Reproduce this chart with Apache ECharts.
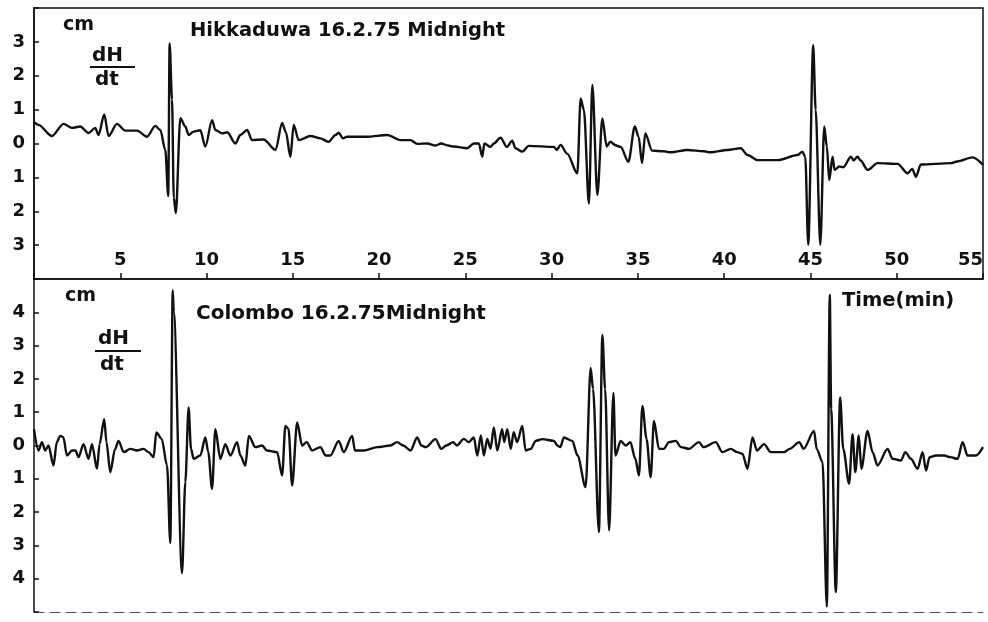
<!DOCTYPE html>
<html>
<head>
<meta charset="utf-8">
<script src="https://cdn.jsdelivr.net/npm/echarts@6/dist/echarts.min.js"></script>
<style>html,body{margin:0;padding:0;background:#fff;}#c{width:988px;height:622px;}</style>
</head>
<body>
<div id="c"></div>
<script>
// ---- Data (time in minutes, dH/dt in cm) ----
const hikTime = [0,0.26,1.04,1.71,2.2,2.68,3.16,3.55,3.74,4.07,4.32,4.81,5.29,5.97,6.55,7.03,7.32,7.61,7.78,7.86,8.0,8.1,8.22,8.48,8.77,8.96,9.25,9.64,9.93,10.32,10.51,10.9,11.2,11.67,11.96,12.35,12.64,13.31,14.0,14.38,14.6,14.86,15.05,15.34,16.02,16.6,17.08,17.47,17.66,17.9,18.15,19.3,20.47,21.24,21.82,22.21,22.8,23.27,23.6,24.0,24.33,25.1,25.49,25.78,25.98,26.1,26.46,26.65,27.04,27.4,27.72,27.9,28.3,28.68,30.13,30.3,30.52,30.9,31.49,31.68,31.87,32.16,32.36,32.65,32.94,33.19,33.4,33.7,34.0,34.45,34.82,35.04,35.24,35.43,35.82,36.5,36.9,37.87,38.83,39.2,40.19,40.96,41.35,41.93,43.1,44.25,44.54,44.7,44.87,45.16,45.3,45.57,45.8,45.95,46.09,46.28,46.4,46.67,46.9,47.35,47.5,47.73,47.9,48.31,48.89,50.05,50.63,50.9,51.11,51.4,53.14,53.5,54.4,55.0];
const hikValue = [0.63,0.55,0.22,0.58,0.46,0.5,0.31,0.46,0.25,0.86,0.22,0.58,0.38,0.38,0.2,0.52,0.4,-0.19,-1.55,2.95,1.3,-1.6,-2.05,0.75,0.5,0.25,0.35,0.39,-0.09,0.69,0.4,0.3,0.33,0.0,0.25,0.4,0.1,0.12,-0.19,0.61,0.33,-0.39,0.55,0.1,0.22,0.15,0.05,0.25,0.32,0.15,0.2,0.2,0.25,0.1,0.1,-0.01,0.0,-0.06,0.0,-0.06,-0.09,-0.14,0.0,0.0,-0.39,0.0,-0.1,0.0,0.17,-0.1,0.08,-0.14,-0.24,-0.07,-0.1,-0.19,-0.04,-0.3,-0.88,1.33,0.99,-1.77,1.73,-1.52,0.74,-0.09,0.05,-0.05,-0.1,-0.54,0.5,0.2,-0.58,0.3,-0.21,-0.23,-0.26,-0.19,-0.23,-0.26,-0.19,-0.14,-0.34,-0.49,-0.49,-0.34,-0.24,-0.4,-2.99,2.9,1.0,-2.99,0.5,-0.09,-1.08,-0.39,-0.78,-0.68,-0.7,-0.39,-0.5,-0.39,-0.5,-0.78,-0.58,-0.6,-0.88,-0.75,-0.98,-0.62,-0.58,-0.53,-0.41,-0.63];

const colTime = [0,0.26,0.46,0.65,0.84,1.13,1.32,1.52,1.7,1.91,2.2,2.4,2.58,2.87,3.16,3.36,3.65,3.8,4.07,4.2,4.42,4.7,4.9,5.2,5.58,5.97,6.35,6.64,6.93,7.09,7.4,7.71,7.9,8.04,8.1,8.58,8.77,8.96,9.1,9.25,9.64,9.93,10.1,10.32,10.51,10.8,11.09,11.38,11.77,11.96,12.25,12.45,12.83,13.22,13.5,14.09,14.38,14.57,14.75,14.96,15.25,15.54,15.8,16.12,16.6,16.9,17.18,17.66,17.95,18.44,18.6,19.11,19.89,20.66,21.05,21.4,21.82,22.21,22.45,22.7,23.27,23.6,23.9,24.3,24.5,24.91,25.2,25.49,25.69,25.9,26.07,26.27,26.46,26.65,26.85,27.13,27.25,27.43,27.63,27.8,28.0,28.3,28.49,28.8,29.07,29.46,30.13,30.33,30.5,30.71,31.2,31.5,31.97,32.26,32.4,32.74,32.94,33.1,33.33,33.58,33.7,34.0,34.3,34.56,34.85,35.06,35.26,35.5,35.74,35.93,36.22,36.5,36.8,37.19,37.5,37.96,38.54,38.8,39.51,39.9,40.38,40.76,41.06,41.35,41.64,41.9,42.31,42.7,43.47,43.8,44.35,44.6,45.21,45.36,45.7,45.95,46.12,46.2,46.47,46.72,46.9,47.24,47.44,47.6,47.8,47.95,48.31,48.6,48.89,49.47,49.76,50.24,50.5,50.82,51.21,51.5,51.7,51.9,52.27,52.75,53.1,53.53,53.82,54.1,54.6,55.0];
const colValue = [0.49,-0.15,0.1,-0.15,0.0,-0.6,0.1,0.29,0.25,-0.3,-0.15,-0.15,-0.35,0.04,-0.4,0.04,-0.7,0.04,0.79,0.1,-0.8,-0.1,0.14,-0.2,-0.1,-0.15,-0.1,-0.2,-0.35,0.39,0.2,-0.6,-2.93,4.66,4.0,-3.83,-1.1,1.14,-0.1,-0.4,-0.3,0.24,-0.2,-1.3,0.49,-0.4,0.04,-0.3,0.1,-0.3,-0.6,0.29,-0.05,0.0,-0.15,-0.2,-0.9,0.59,0.5,-1.2,0.69,0.0,0.1,-0.15,-0.05,-0.3,-0.3,0.14,-0.2,0.29,-0.15,-0.15,-0.05,0.0,0.1,0.0,-0.15,0.24,0.0,-0.05,0.19,-0.1,0.0,0.1,0.0,0.2,0.1,0.24,-0.3,0.3,-0.3,0.2,-0.1,0.54,-0.15,0.49,0.1,0.49,-0.1,0.4,0.1,0.59,-0.15,-0.1,0.14,0.19,0.14,0.0,-0.05,0.24,0.14,-0.3,-1.25,2.33,1.7,-2.6,3.32,1.7,-2.55,1.58,-0.3,0.14,0.0,0.1,-0.4,-0.9,1.19,0.2,-0.95,0.74,-0.1,-0.1,0.1,0.14,-0.05,-0.1,0.1,-0.05,0.1,-0.2,-0.1,-0.2,-0.25,-0.7,0.24,-0.15,0.04,-0.2,-0.2,-0.1,0.1,-0.1,0.44,-0.1,-0.5,-4.84,4.53,1.1,-4.4,1.44,-0.1,-1.15,0.34,-0.8,0.3,-0.7,0.44,-0.2,-0.6,-0.1,-0.4,-0.45,-0.2,-0.4,-0.7,-0.2,-0.75,-0.35,-0.3,-0.3,-0.35,-0.4,0.1,-0.3,-0.3,-0.05,-0.3];

const timeTicks = [5,10,15,20,25,30,35,40,45,50,55];
const hikLabels = [-3,-2,-1,0,1,2,3];
const colLabels = [-4,-3,-2,-1,0,1,2,3,4];

// ---- Chart ----
const FONT = 'DejaVu Sans';
const INK = '#111';
const chart = echarts.init(document.getElementById('c'), null, {renderer: 'canvas'});

function pairs(t, v) { return t.map((x, i) => [x, v[i]]); }
function yFmt(list) {
  return function (val) { return list.indexOf(val) >= 0 ? String(Math.abs(val)) : ''; };
}

const txt = (x, y, s, size, extra) => Object.assign({
  type: 'text', left: x, top: y,
  style: {text: s, font: 'bold ' + size + 'px "' + FONT + '"', fill: INK}
}, extra || {});

chart.setOption({
  animation: false,
  backgroundColor: '#fff',
  grid: [
    {left: 34, right: 5, top: 8, height: 271, outerBoundsMode: 'none', containLabel: false,
     show: true, borderColor: INK, borderWidth: 1.5, backgroundColor: 'transparent'},
    {left: 34, right: 5, top: 279, height: 333, outerBoundsMode: 'none', containLabel: false}
  ],
  xAxis: [
    {gridIndex: 0, type: 'value', min: 0, max: 55, interval: 5,
     axisLine: {show: true, onZero: false, lineStyle: {color: INK, width: 1.5}},
     axisTick: {show: true, inside: true, length: 6, lineStyle: {color: INK, width: 1.5}},
     axisLabel: {inside: true, margin: 10, color: INK, fontFamily: FONT, fontWeight: 'bold', fontSize: 18,
       alignMaxLabel: 'right',
       formatter: v => timeTicks.indexOf(v) >= 0 ? String(v) : ''},
     splitLine: {show: false}},
    {gridIndex: 1, type: 'value', min: 0, max: 55, interval: 5,
     axisLine: {show: true, onZero: false, lineStyle: {color: '#555', width: 1.2, type: [10, 6]}},
     axisTick: {show: false}, axisLabel: {show: false}, splitLine: {show: false}}
  ],
  yAxis: [
    {gridIndex: 0, type: 'value', min: -4, max: 4, interval: 1,
     axisLine: {show: true, onZero: false, lineStyle: {color: INK, width: 1.5}},
     axisTick: {show: true, inside: true, length: 5, lineStyle: {color: INK, width: 1.5}},
     axisLabel: {margin: 9, color: INK, fontFamily: FONT, fontWeight: 'bold', fontSize: 18, formatter: yFmt(hikLabels)},
     splitLine: {show: false}},
    {gridIndex: 1, type: 'value', min: -5, max: 5, interval: 1,
     axisLine: {show: true, onZero: false, lineStyle: {color: INK, width: 1.5}},
     axisTick: {show: true, inside: true, length: 5, lineStyle: {color: INK, width: 1.5}},
     axisLabel: {margin: 9, color: INK, fontFamily: FONT, fontWeight: 'bold', fontSize: 18, formatter: yFmt(colLabels)},
     splitLine: {show: false}}
  ],
  series: [
    {name: 'Hikkaduwa', type: 'line', xAxisIndex: 0, yAxisIndex: 0, data: pairs(hikTime, hikValue),
     showSymbol: false, smooth: 0.3, smoothMonotone: 'x', lineStyle: {color: INK, width: 2.4}},
    {name: 'Colombo', type: 'line', xAxisIndex: 1, yAxisIndex: 1, data: pairs(colTime, colValue),
     showSymbol: false, smooth: 0.3, smoothMonotone: 'x', lineStyle: {color: INK, width: 2.4}}
  ],
  graphic: [
    txt(63, 16, 'cm', 19),
    txt(92, 46, 'dH', 20),
    {type: 'line', shape: {x1: 90, y1: 67, x2: 135, y2: 67}, style: {stroke: INK, lineWidth: 2}},
    txt(95, 70, 'dt', 20),
    txt(190, 21, 'Hikkaduwa 16.2.75 Midnight', 19.5),
    txt(65, 287, 'cm', 19),
    txt(98, 329, 'dH', 20),
    {type: 'line', shape: {x1: 95, y1: 351, x2: 141, y2: 351}, style: {stroke: INK, lineWidth: 2}},
    txt(100, 355, 'dt', 20),
    txt(196, 304, 'Colombo 16.2.75Midnight', 20),
    txt(842, 291, 'Time(min)', 19.5)
  ]
});
</script>
</body>
</html>
